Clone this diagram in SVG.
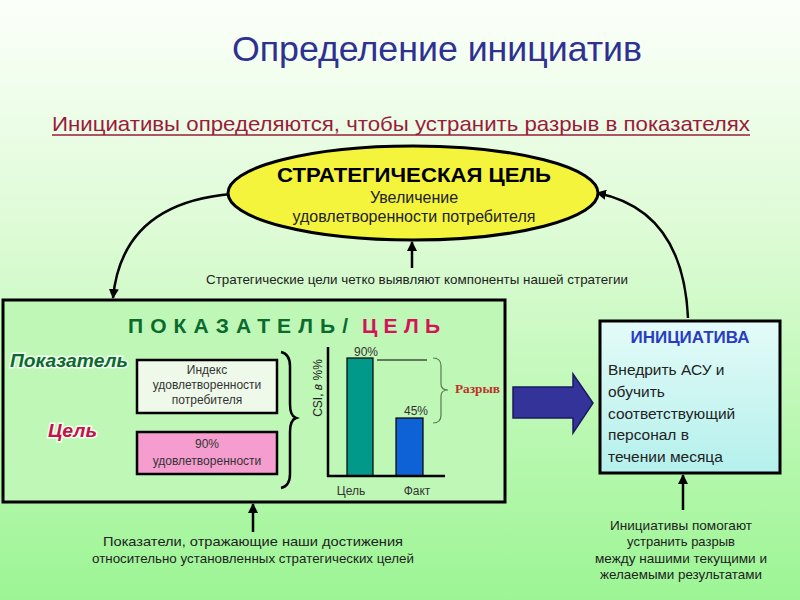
<svg xmlns="http://www.w3.org/2000/svg" width="800" height="600" viewBox="0 0 800 600">
<defs>
<linearGradient id="bg" x1="0" y1="0" x2="0" y2="1">
<stop offset="0" stop-color="#fcfffa"/>
<stop offset="0.4" stop-color="#dcfbd4"/>
<stop offset="1" stop-color="#9cf594"/>
</linearGradient>
<linearGradient id="cy" x1="0" y1="0" x2="0" y2="1">
<stop offset="0" stop-color="#e4fbf8"/>
<stop offset="1" stop-color="#b4f0ec"/>
</linearGradient>
<marker id="ah" viewBox="0 0 10 10" refX="9" refY="5" markerWidth="4" markerHeight="4" orient="auto">
<path d="M0,0 L10,5 L0,10 z" fill="#000"/>
</marker>
<style>
text{font-family:"Liberation Sans",Arial,sans-serif;}
.c{text-anchor:middle;}
.lbl{font-size:13px;fill:#222;}
.con{fill:none;stroke:#000;stroke-width:2.5;marker-end:url(#ah);}
.box{stroke:#000;stroke-width:3;}
.br{font-size:13px;fill:#222;}
</style>
</defs>
<rect width="800" height="600" fill="url(#bg)"/>

<text x="437" y="61" class="c" font-size="35" fill="#2e3192" textLength="410" lengthAdjust="spacingAndGlyphs">Определение инициатив</text>
<text x="401" y="131" class="c" font-size="21" fill="#9b1b3c" textLength="698" lengthAdjust="spacingAndGlyphs">Инициативы определяются, чтобы устранить разрыв в показателях</text>
<line x1="52" y1="135" x2="750" y2="135" stroke="#9b1b3c" stroke-width="1.5"/>

<g id="connectors">
<path class="con" d="M232,194 Q122,203 113,298"/>
<path class="con" d="M688,318 Q683,210 597,193"/>
<path class="con" d="M412,268 L412,242"/>
<path class="con" d="M253,532 L253,504"/>
<path class="con" d="M683,510 L683,475"/>
</g>

<g id="strategic-goal">
<ellipse cx="413" cy="193" rx="185" ry="47" fill="#f4f43c" stroke="#000" stroke-width="3"/>
<text x="414" y="182" class="c" font-size="21" font-weight="bold" fill="#000" textLength="274" lengthAdjust="spacingAndGlyphs">СТРАТЕГИЧЕСКАЯ ЦЕЛЬ</text>
<text x="414" y="203" class="c" font-size="16" fill="#222">Увеличение</text>
<text x="414" y="222" class="c" font-size="16" fill="#222">удовлетворенности потребителя</text>
</g>

<text x="417" y="284" class="c lbl" textLength="422" lengthAdjust="spacingAndGlyphs">Стратегические цели четко выявляют компоненты нашей стратегии</text>

<g id="indicator-panel">
<rect x="3" y="300" width="502" height="202" fill="#bff7b6" class="box"/>
<text x="128" y="333" font-size="21" font-weight="bold" fill="#0b6b2e" textLength="220" lengthAdjust="spacing">ПОКАЗАТЕЛЬ/</text>
<text x="362" y="333" font-size="21" font-weight="bold" fill="#d4145a" textLength="78" lengthAdjust="spacing">ЦЕЛЬ</text>
<text x="10" y="367" font-size="18" font-weight="bold" font-style="italic" fill="#0b6b2e" stroke="#f0fff0" stroke-width="3" paint-order="stroke" textLength="118" lengthAdjust="spacingAndGlyphs">Показатель</text>
<text x="48" y="437" font-size="18" font-weight="bold" font-style="italic" fill="#c8104a" stroke="#f0fff0" stroke-width="3" paint-order="stroke" textLength="49" lengthAdjust="spacingAndGlyphs">Цель</text>
</g>

<g id="index-box">
<rect x="137" y="360" width="140" height="53" fill="#eef9ea" stroke="#000" stroke-width="2.5"/>
<text x="207" y="374" class="c" font-size="12" fill="#333">Индекс</text>
<text x="207" y="389" class="c" font-size="12" fill="#333">удовлетворенности</text>
<text x="207" y="404" class="c" font-size="12" fill="#333">потребителя</text>
</g>

<g id="target-box">
<rect x="137" y="432" width="140" height="42" fill="#f59dcf" stroke="#000" stroke-width="2.5"/>
<text x="207" y="448" class="c" font-size="12" fill="#333">90%</text>
<text x="207" y="465" class="c" font-size="12" fill="#333">удовлетворенности</text>
</g>

<path d="M281,352 Q290,354 290,366 L290,404 Q290,416 296,418 Q290,420 290,432 L290,474 Q290,486 281,488" fill="none" stroke="#000" stroke-width="2.5"/>

<g id="chart">
<rect x="347" y="358" width="26" height="118" fill="#00998a" stroke="#000" stroke-width="1.2"/>
<rect x="396" y="418" width="27" height="58" fill="#0f62d6" stroke="#000" stroke-width="1.2"/>
<line x1="328" y1="347" x2="328" y2="477" stroke="#000" stroke-width="2.5"/>
<line x1="327" y1="476" x2="445" y2="476" stroke="#000" stroke-width="2.5"/>
<line x1="377" y1="360" x2="427" y2="360" stroke="#000" stroke-width="1"/>
<path d="M433,358 Q441,358 441,366 L441,384 Q441,390 448,390 Q441,390 441,396 L441,415 Q441,423 433,423" fill="none" stroke="#5a7a50" stroke-width="1.2"/>
<text x="366" y="356" class="c" font-size="12" fill="#333">90%</text>
<text x="416" y="415" class="c" font-size="12" fill="#333">45%</text>
<text x="351" y="495" class="c" font-size="12" fill="#333">Цель</text>
<text x="417" y="495" class="c" font-size="12" fill="#333">Факт</text>
<text transform="translate(322,388) rotate(-90)" class="c" font-size="12" fill="#222">CSI, <tspan font-style="italic">в</tspan> %%</text>
<text x="455" y="393" font-size="12" font-weight="bold" fill="#c0302a" style="font-family:'Liberation Serif',serif" textLength="45" lengthAdjust="spacingAndGlyphs">Разрыв</text>
</g>

<path d="M513,387 L573,387 L573,374 L593,403 L573,433 L573,418 L513,418 z" fill="#33339a" stroke="#1a1a60" stroke-width="1.5"/>

<g id="initiative">
<rect x="600" y="321" width="180" height="152" fill="url(#cy)" class="box"/>
<text x="690" y="343" class="c" font-size="17" font-weight="bold" fill="#2b3cc4">ИНИЦИАТИВА</text>
<text x="608" y="375" font-size="15.5" fill="#222">Внедрить АСУ и</text>
<text x="608" y="397" font-size="15.5" fill="#222">обучить</text>
<text x="608" y="419" font-size="15.5" fill="#222">соответствующий</text>
<text x="608" y="440" font-size="15.5" fill="#222">персонал в</text>
<text x="608" y="462" font-size="15.5" fill="#222">течении месяца</text>
</g>

<text x="253" y="546" class="c lbl" textLength="300" lengthAdjust="spacingAndGlyphs">Показатели, отражающие наши достижения</text>
<text x="253" y="563" class="c lbl" textLength="322" lengthAdjust="spacingAndGlyphs">относительно установленных стратегических целей</text>

<text x="681" y="530" class="c br" textLength="142" lengthAdjust="spacingAndGlyphs">Инициативы помогают</text>
<text x="681" y="546" class="c br">устранить разрыв</text>
<text x="681" y="563" class="c br" textLength="172" lengthAdjust="spacingAndGlyphs">между нашими текущими и</text>
<text x="681" y="579" class="c br" textLength="162" lengthAdjust="spacingAndGlyphs">желаемыми результатами</text>
</svg>
